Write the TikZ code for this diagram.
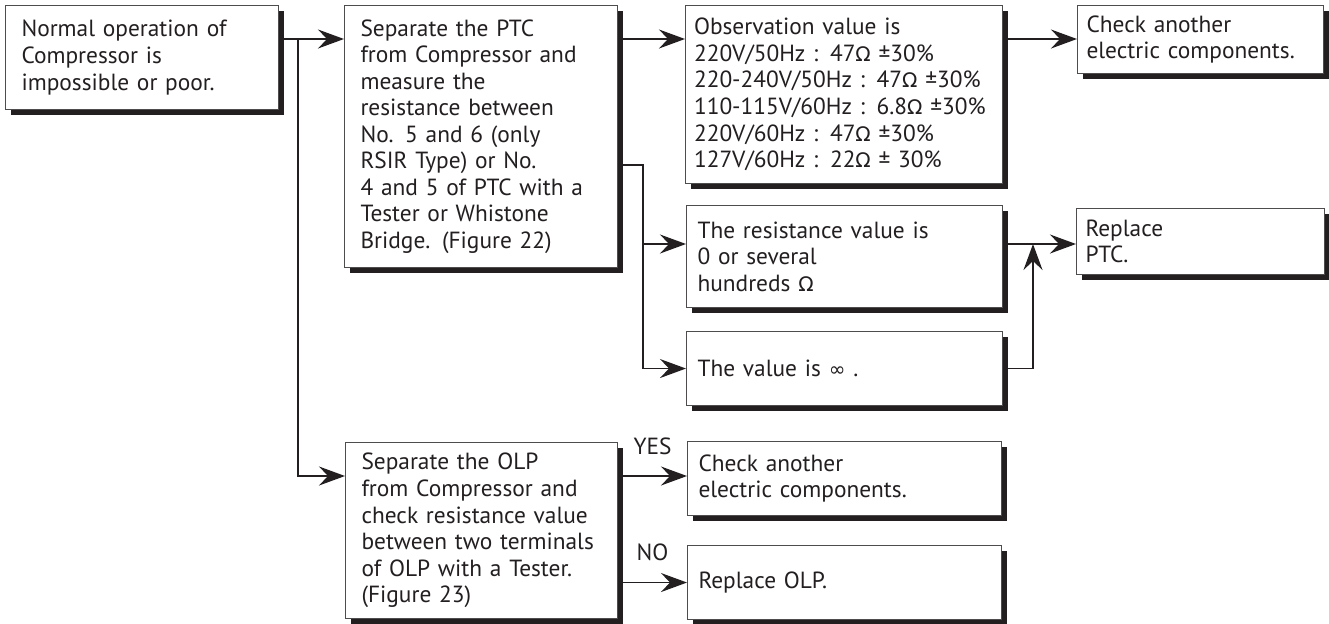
\documentclass[tikz,border=0pt]{standalone}
\usepackage{fontspec}
\setmainfont{PT Sans}
\newfontfamily\symfont{DejaVu Sans}[Scale=0.86]
\usetikzlibrary{arrows.meta, shadows}
\definecolor{ink}{HTML}{231F20}
\newcommand{\ohm}{{\symfont Ω}}
\newcommand{\infsym}{{\symfont ∞}}

\begin{document}
\begin{tikzpicture}[
  font=\fontsize{13.3}{15.1}\selectfont,
  text=ink,
  box/.style={draw=ink!80, line width=0.6pt, fill=white, anchor=north west,
              align=left, inner xsep=0.22cm, inner ysep=0pt,
              drop shadow={shadow xshift=0.1cm, shadow yshift=-0.1cm,
                           fill=ink, opacity=1}},
  widebox/.style={box, inner xsep=0.32cm},
  arr/.style={-{Stealth[length=5.2mm, width=3.8mm, inset=1.8mm]}, line width=0.8pt, draw=ink},
  line/.style={line width=0.8pt, draw=ink},
  lbl/.style={above=0.42cm, inner sep=0pt}
]
  \useasboundingbox (0,0) rectangle (26.58,-12.46);

  \node[widebox, text width=4.82cm, minimum height=2.08cm] (start)  at (0.10,-0.10)
    {Normal operation of\\Compressor is\\impossible or poor.};
  \node[widebox, text width=4.82cm, minimum height=5.24cm] (ptc)    at (6.88,-0.10)
    {Separate the PTC\\from Compressor and\\measure the\\resistance between\\No. 5 and 6 (only\\RSIR Type) or No.\\4 and 5 of PTC with a\\Tester or Whistone\\Bridge. (Figure 22)};
  \node[box, inner xsep=0.17cm, text width=6.00cm, minimum height=3.56cm] (obs)    at (13.70,-0.10)
    {Observation value is\\220V/50Hz : 47\ohm{} ±30\%\\220-240V/50Hz : 47\ohm{} ±30\%\\110-115V/60Hz : 6.8\ohm{} ±30\%\\220V/60Hz : 47\ohm{} ±30\%\\127V/60Hz : 22\ohm{} ± 30\%};
  \node[box, inner xsep=0.18cm, text width=4.56cm, minimum height=1.36cm] (chkptc) at (21.54,-0.10)
    {Check another\\electric components.};
  \node[box, text width=5.88cm, minimum height=2.04cm] (res)    at (13.72,-4.10)
    {The resistance value is\\0 or several\\hundreds \ohm};
  \node[box, text width=5.88cm, minimum height=1.48cm] (inf)    at (13.72,-6.62)
    {The value is \infsym{} .};
  \node[box, inner xsep=0.18cm, text width=4.60cm, minimum height=1.32cm] (repptc) at (21.52,-4.16)
    {Replace\\PTC.};
  \node[widebox, text width=4.80cm, minimum height=3.52cm] (olp)    at (6.90,-8.84)
    {Separate the OLP\\from Compressor and\\check resistance value\\between two terminals\\of OLP with a Tester.\\(Figure 23)};
  \node[box, text width=5.84cm, minimum height=1.48cm] (chkolp) at (13.74,-8.82)
    {Check another\\electric components.};
  \node[box, text width=5.84cm, minimum height=1.48cm] (repolp) at (13.74,-10.90)
    {Replace OLP.};

  \coordinate (split)  at (5.96,-0.78);
  \coordinate (ptcout) at (12.86,-3.30);
  \coordinate (resin)  at (12.86,-4.88);
  \coordinate (merge)  at (20.66,-4.88);
  \coordinate (olpin)  at (5.96,-9.52);

  \draw[arr] (start.east |- split) -- (ptc.west |- split);
  \draw[arr] (split) |- (olp.west |- olpin);
  \draw[arr] (ptc.east |- split) -- (obs.west |- split);
  \draw[arr] (obs.east |- split) -- (chkptc.west |- split);
  \draw[line] (ptc.east |- ptcout) -- (ptcout) -- (ptcout |- inf.west);
  \draw[arr] (resin) -- (res.west |- resin);
  \draw[arr] (ptcout |- inf.west) -- (inf.west);
  \draw[arr] (res.east |- resin) -- (repptc.west |- resin);
  \draw[arr] (inf.east) -| (merge);
  \draw[arr] (olp.east |- olpin) -- node[lbl] {YES} (chkolp.west |- olpin);
  \draw[arr] (olp.east |- repolp.west) -- node[lbl] {NO} (repolp.west);
\end{tikzpicture}
\end{document}
